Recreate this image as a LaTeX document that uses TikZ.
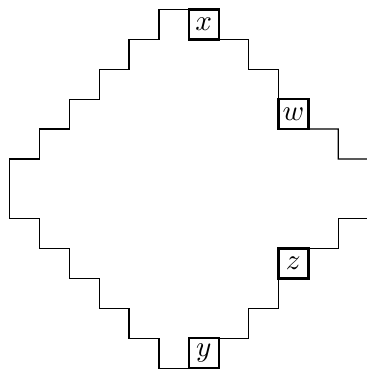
\documentclass[tikz,border=0pt]{standalone}
\usepackage{amsmath,amssymb}
\usetikzlibrary{positioning}

\begin{document}
\begin{tikzpicture}[x=3.6mm, y=3.6mm, line join=miter]
  \tikzset{cell/.style={draw, thick, minimum size=3.6mm, inner sep=0pt, outer sep=0pt}}
  \useasboundingbox (-0.32, 0.32) rectangle (11.93, -12.03);

  % Cells
  \node[cell] (x) at (6.5, -0.5) {$x$};
  \node[cell] (w) at (9.5, -3.5) {$w$};
  \node[cell] (z) at (9.5, -8.5) {$z$};
  \node[cell] (y) at (6.5, -11.5) {$y$};

  % Free ends on the right
  \coordinate (rtop) at (12.2, -5);
  \coordinate (rbot) at (12.2, -7);

  % Left staircase
  \draw (y.south west) -| ++(-1,1) -| ++(-1,1) -| ++(-1,1) -| ++(-1,1) -| ++(-1,1)
        -| ++(-1,2)
        -| ++(1,1) -| ++(1,1) -| ++(1,1) -| ++(1,1) -| ++(1,1)
        -- (x.north west);

  % Right staircase
  \draw (x.south east) -| ++(1,-1) -| (w.north west);
  \draw (w.south east) -| ++(1,-1) -- (rtop);
  \draw (rbot) -| ++(-1.2,-1) -- (z.north east);
  \draw (z.south west) |- ++(-1,-1) |- (y.north east);
\end{tikzpicture}
\end{document}
